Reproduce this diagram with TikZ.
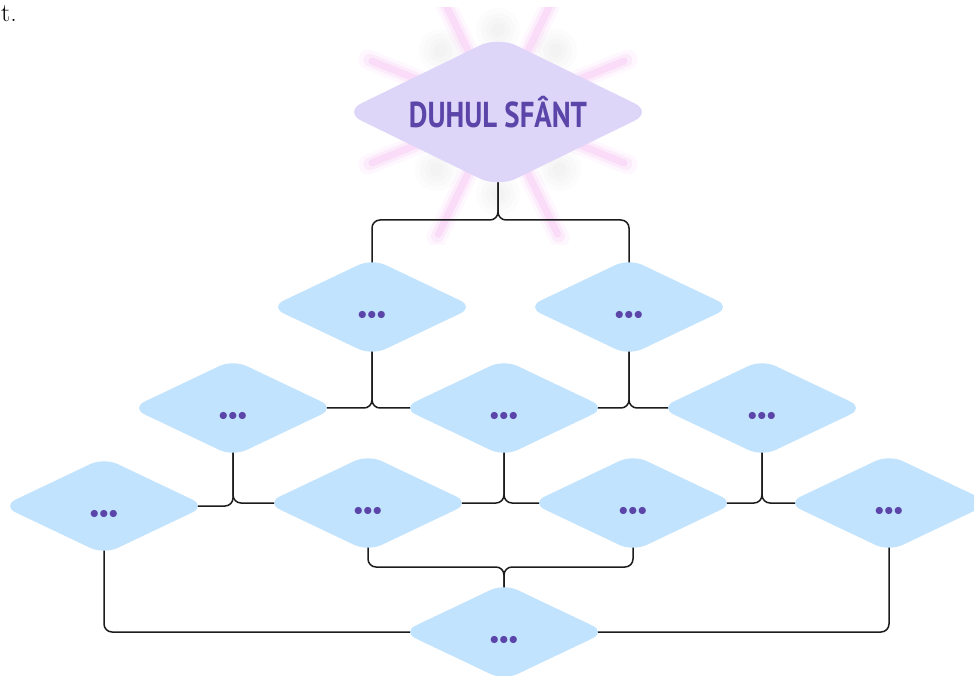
\documentclass[tikz,border=0pt]{standalone}
\usepackage{fontspec}
\usepackage{graphicx}
\usetikzlibrary{shapes.geometric,positioning,backgrounds}
\newfontfamily\titlefont{PT Sans}
\definecolor{itemblue}{HTML}{C2E3FD}
\definecolor{headfill}{HTML}{DDD6F8}
\definecolor{inkpurple}{HTML}{5B45A8}
\definecolor{raypink}{HTML}{F0A0EE}
\definecolor{linegray}{HTML}{1C1C1C}
\newcommand{\onedot}{\makebox[9.5pt]{\textbullet}}
\newcommand{\threedots}{{\fontsize{32}{32}\selectfont\onedot\onedot\onedot}}

\begin{document}
\begin{tikzpicture}[
    x=1pt, y=1pt,
    on grid,
    head/.style={diamond, aspect=2, fill=headfill, text=inkpurple, inner sep=0pt, minimum width=309pt, minimum height=151pt, rounded corners=20pt},
    item/.style={diamond, aspect=2, fill=itemblue, inner sep=0pt, minimum width=204pt, minimum height=97pt, rounded corners=15pt,
        label={[text=inkpurple, yshift=-10.5pt]center:\threedots}},
    link/.style={draw=linegray, line width=1.5pt, rounded corners=8pt},
    ray/.style={draw=raypink, line cap=round}
]
    \useasboundingbox (0,0) rectangle (974,675);

    \node [anchor=base west, inner sep=0pt, font=\fontsize{26}{26}\selectfont] (frag) at (1,653) {t.};

    \node [head] (top) at (498,563) {\titlefont\bfseries\fontsize{36}{36}\selectfont\scalebox{0.8}[1]{DUHUL SFÂNT}};
    \node [item, below left=195pt and 126pt of top] (a1) {};
    \node [item, right=257pt of a1] (a2) {};
    \node [item, below right=101pt and 132pt of a1] (b2) {};
    \node [item, left=271pt of b2] (b1) {};
    \node [item, right=258pt of b2] (b3) {};
    \node [item, below left=95pt and 136pt of b2] (c2) {};
    \node [item, below left=3pt and 264pt of c2] (c1) {};
    \node [item, right=265pt of c2] (c3) {};
    \node [item, right=256pt of c3] (c4) {};
    \node [item, below right=129pt and 136pt of c2] (bottom) {};

    \begin{scope}[on background layer]
        % glow round the title
        \begin{scope}
            \clip (300,430) rectangle (700,667);
            \foreach \a in {22,64,116,158,202,244,296,338} {
                \path [ray, line width=20pt, opacity=.08] (top.center) ++(\a:60pt) -- ++(\a:80pt);
                \path [ray, line width=13pt, opacity=.14] (top.center) ++(\a:63pt) -- ++(\a:75pt);
                \path [ray, line width=7pt, opacity=.20] (top.center) ++(\a:66pt) -- ++(\a:70pt);
            }
            \foreach \a/\r in {47/84,133/84,90/82,223/84,317/84,270/82} {
                \foreach \s in {22,17,12,7}
                    \fill [black, opacity=.012] (top.center) ++(\a:\r pt) circle (\s pt);
            }
        \end{scope}

        \path [link] (top.center) -- ++(0,-108pt) -| (a1.center);
        \path [link] (top.center) -- ++(0,-108pt) -| (a2.center);
        \path [link] (a1.center) |- (b1.center);
        \path [link] (a1.center) |- (b2.center);
        \path [link] (a2.center) |- (b2.center);
        \path [link] (a2.center) |- (b3.center);
        \path [link] (b1.center) |- (c1.center);
        \path [link] (b1.center) |- (c2.center);
        \path [link] (b2.center) |- (c2.center);
        \path [link] (b2.center) |- (c3.center);
        \path [link] (b3.center) |- (c3.center);
        \path [link] (b3.center) |- (c4.center);
        \path [link] (c2.center) -- ++(0,-64pt) -| (bottom.center);
        \path [link] (c3.center) -- ++(0,-64pt) -| (bottom.center);
        \path [link] (c1.center) |- (bottom.center);
        \path [link] (c4.center) |- (bottom.center);
    \end{scope}
\end{tikzpicture}
\end{document}
